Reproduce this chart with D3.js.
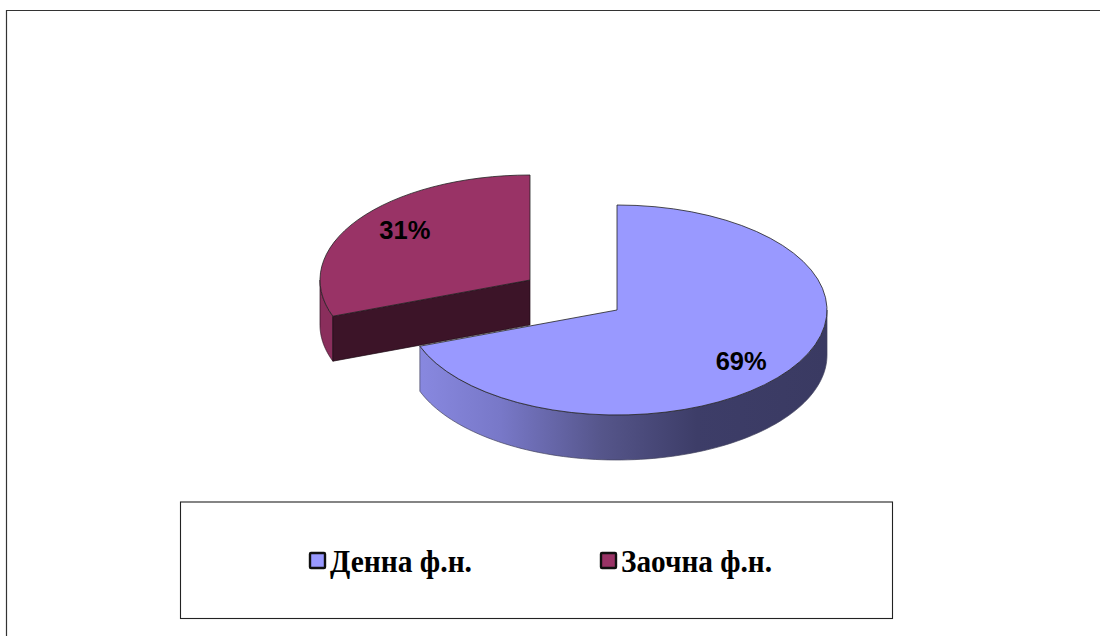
<!DOCTYPE html>
<html><head><meta charset="utf-8">
<script src="https://cdn.jsdelivr.net/npm/d3@7"></script>
<style>html,body{margin:0;padding:0;background:#fff}svg{display:block}</style>
</head><body><svg id="c" width="1100" height="636"></svg>
<script>
const categories = ["Денна ф.н.", "Заочна ф.н."];
const values = [69.4, 30.6];
const topColors = ["#9999ff", "#993366"];
const markerEdges = ["#111", "#111"];

const svg = d3.select("#c");
const R = 210, squash = 0.5, depth = 45;
const centers = [[617, 310], [530, 280]];
const labelNudge = [[-7, 5], [6, -4]];
const labelRadius = 160;

const defs = svg.append("defs");
const grad = defs.append("linearGradient").attr("id", "side")
  .attr("gradientUnits", "userSpaceOnUse").attr("x1", 419).attr("x2", 827).attr("y1", 0).attr("y2", 0);
[[0, "#8888e0"], [0.2, "#7878c8"], [0.45, "#55558a"], [0.68, "#3d3d68"], [1, "#3a3a62"]]
  .forEach(([o, c]) => grad.append("stop").attr("offset", o).attr("stop-color", c));

// frame: only top and left rules reach the picture
svg.append("path").attr("d", "M1100,10.5H6.5V636").attr("fill", "none").attr("stroke", "#333").attr("stroke-width", 1.2);

const pie = d3.pie().sort(null).startAngle(0).endAngle(2 * Math.PI);
const arcs = pie(values);
const arcGen = d3.arc().innerRadius(0).outerRadius(R);
const pt = (c, a, dy = 0) => [c[0] + R * Math.sin(a), c[1] - R * squash * Math.cos(a) + dy];

// wall along the rim between two angles, clipped to the front half
function rimWall(c, a0, a1) {
  const p = d3.path();
  const n = 90, pts = d3.range(n + 1).map(i => a0 + (a1 - a0) * i / n);
  pts.forEach((a, i) => { const q = pt(c, a); i ? p.lineTo(q[0], q[1]) : p.moveTo(q[0], q[1]); });
  pts.slice().reverse().forEach(a => { const q = pt(c, a, depth); p.lineTo(q[0], q[1]); });
  p.closePath();
  return p.toString();
}

// draw red slice first, it sits behind the blue one
[1, 0].forEach(i => {
  const d = arcs[i], c = centers[i];
  const g = svg.append("g");
  if (i === 1) {
    g.append("path").attr("d", rimWall(c, d.startAngle, 1.5 * Math.PI))
      .attr("fill", "#8a2e5c").attr("stroke", "#2a1020").attr("stroke-width", 0.7);
    const e = pt(c, d.startAngle);
    const cut = d3.path();
    cut.moveTo(c[0], c[1]); cut.lineTo(e[0], e[1]); cut.lineTo(e[0], e[1] + depth);
    cut.lineTo(c[0], c[1] + depth); cut.closePath();
    g.append("path").attr("d", cut.toString()).attr("fill", "#3c1428").attr("stroke", "#1c0a14").attr("stroke-width", 0.7);
  } else {
    g.append("path").attr("d", rimWall(c, Math.PI / 2, d.endAngle))
      .attr("fill", "url(#side)").attr("stroke", "#44445f").attr("stroke-width", 0.7);
  }
  g.append("path").attr("d", arcGen(d))
    .attr("transform", `translate(${c[0]},${c[1]}) scale(1,${squash})`)
    .attr("fill", topColors[i]).attr("stroke", "#222")
    .attr("stroke-width", 0.8).attr("vector-effect", "non-scaling-stroke");
});

// percentage labels
arcs.forEach((d, i) => {
  const m = (d.startAngle + d.endAngle) / 2, c = centers[i];
  const total = d3.sum(values);
  svg.append("text")
    .attr("x", c[0] + labelRadius * Math.sin(m) + labelNudge[i][0])
    .attr("y", c[1] - labelRadius * squash * Math.cos(m) + labelNudge[i][1])
    .attr("text-anchor", "middle").attr("dominant-baseline", "central")
    .attr("font-family", "Liberation Sans").attr("font-weight", "bold").attr("font-size", 25.5)
    .attr("fill", "#000").text(Math.round(d.value / total * 100) + "%");
});

// legend
svg.append("rect").attr("x", 180.5).attr("y", 502).attr("width", 712).attr("height", 116.5)
  .attr("fill", "#fff").attr("stroke", "#222").attr("stroke-width", 1.1);
const legendX = d3.scalePoint().domain(categories).range([310, 601]);
const legendW = [142, 151];
categories.forEach((name, i) => {
  const x = legendX(name);
  svg.append("rect").attr("x", x).attr("y", 553).attr("width", 15).attr("height", 15).attr("rx", 1)
    .attr("fill", topColors[i]).attr("stroke", markerEdges[i]).attr("stroke-width", 2.4);
  svg.append("text").attr("x", x + 20).attr("y", 571.5)
    .attr("font-family", "Liberation Serif").attr("font-weight", "bold").attr("font-size", 31)
    .attr("textLength", legendW[i]).attr("lengthAdjust", "spacingAndGlyphs")
    .attr("fill", "#000").text(name);
});
</script></body></html>
